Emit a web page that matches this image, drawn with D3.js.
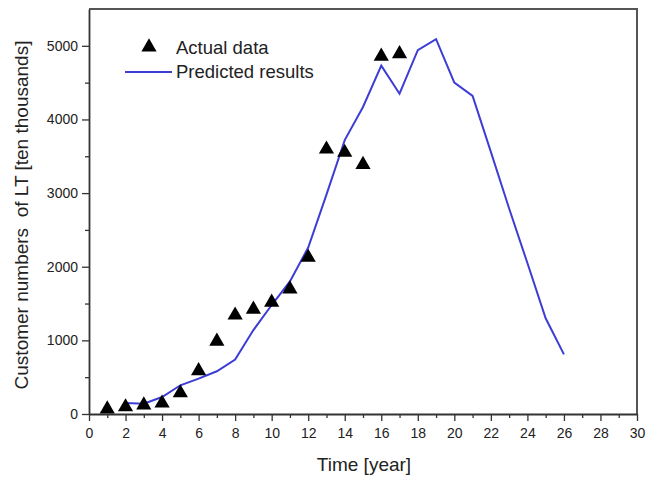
<!DOCTYPE html>
<html>
<head>
<meta charset="utf-8">
<script src="https://cdn.jsdelivr.net/npm/d3@7"></script>
<style>
body { margin: 0; background: #fff; }
text { font-family: "Liberation Sans", Arial, sans-serif; fill: #222; }
</style>
</head>
<body>
<div id="chart"></div>
<script>
// actual customer numbers (triangles)
var actualYears = [1, 2, 3, 4, 5, 6, 7, 8, 9, 10, 11, 12, 13, 14, 15, 16, 17];
var actualValues = [80, 110, 135, 160, 300, 600, 1000, 1355, 1435, 1530, 1710, 2140, 3610, 3565, 3400, 4870, 4905];

// predicted results (blue line)
var predYears = [2, 3, 4, 5, 6, 7, 8, 9, 10, 11, 12, 13, 14, 15, 16, 17, 18, 19, 20, 21, 22, 23, 24, 25, 26];
var predValues = [150, 140, 230, 390, 480, 580, 740, 1140, 1480, 1800, 2260, 2980, 3720, 4170, 4730, 4350, 4940, 5090, 4500, 4320, 3560, 2790, 2050, 1300, 810];

var xTicks = [0, 2, 4, 6, 8, 10, 12, 14, 16, 18, 20, 22, 24, 26, 28, 30];
var yTicks = [0, 1000, 2000, 3000, 4000, 5000];

var width = 647, height = 477;
var margin = { left: 89, right: 10, top: 9, bottom: 63 };

var svg = d3.select("#chart").append("svg")
    .attr("width", width)
    .attr("height", height);

var x = d3.scaleLinear().domain([0, 30]).range([margin.left, width - margin.right]);
var y = d3.scaleLinear().domain([0, 5500]).range([height - margin.bottom, margin.top]);

// frame top and right
svg.append("path")
    .attr("d", `M${x(0)},${y(5500)}H${x(30)}V${y(0)}`)
    .attr("fill", "none")
    .attr("stroke", "#555")
    .attr("stroke-width", 2);

// minor ticks
svg.append("g")
    .attr("transform", `translate(0, ${y(0)})`)
    .call(d3.axisBottom(x).tickValues(d3.range(1, 30, 2)).tickSize(4).tickFormat(""))
    .call(g => g.select(".domain").remove());
svg.append("g")
    .attr("transform", `translate(${x(0)}, 0)`)
    .call(d3.axisLeft(y).tickValues([500, 1500, 2500, 3500, 4500]).tickSize(4).tickFormat(""))
    .call(g => g.select(".domain").remove());

var xAxis = svg.append("g")
    .attr("transform", `translate(0, ${y(0)})`)
    .call(d3.axisBottom(x).tickValues(xTicks).tickSize(7).tickSizeOuter(0).tickPadding(7));
var yAxis = svg.append("g")
    .attr("transform", `translate(${x(0)}, 0)`)
    .call(d3.axisLeft(y).tickValues(yTicks).tickFormat(d3.format("d")).tickSize(7).tickSizeOuter(0).tickPadding(4));

svg.selectAll(".tick line").attr("stroke", "#333").attr("stroke-width", 1.3);
svg.selectAll(".domain").attr("stroke", "#333").attr("stroke-width", 1.8);
svg.selectAll(".tick text")
    .style("font-family", "'Liberation Sans', Arial, sans-serif")
    .style("font-size", "14px")
    .attr("fill", "#333");

// predicted line
var line = d3.line()
    .x(function (d, i) { return x(predYears[i]); })
    .y(function (d) { return y(d); });
svg.append("path")
    .datum(predValues)
    .attr("d", line)
    .attr("fill", "none")
    .attr("stroke", "#3d3dd6")
    .attr("stroke-width", 2);

// actual triangles
var tri = d3.symbol().type(d3.symbolTriangle).size(100);
svg.selectAll("path.pt").data(actualValues)
    .enter()
    .append("path")
    .attr("class", "pt")
    .attr("d", tri)
    .attr("transform", function (d, i) { return `translate(${x(actualYears[i])}, ${y(d) + 1})`; })
    .attr("fill", "#000");

// legend
var legend = svg.append("g");
legend.append("path")
    .attr("d", tri)
    .attr("transform", "translate(149, 47)")
    .attr("fill", "#000");
legend.append("text")
    .text("Actual data")
    .attr("x", 176)
    .attr("y", 54)
    .style("font-size", "18.5px");
legend.append("line")
    .attr("x1", 125).attr("x2", 172)
    .attr("y1", 72).attr("y2", 72)
    .attr("stroke", "#3d3dd6")
    .attr("stroke-width", 2);
legend.append("text")
    .text("Predicted results")
    .attr("x", 176)
    .attr("y", 78)
    .style("font-size", "18.5px");

// axis titles
svg.append("text")
    .text("Time [year]")
    .attr("x", 364)
    .attr("y", 471)
    .attr("text-anchor", "middle")
    .style("font-size", "19px");

svg.append("text")
    .text("Customer numbers\u00a0 of LT [ten thousands]")
    .attr("transform", "translate(28, 215) rotate(-90)")
    .attr("text-anchor", "middle")
    .style("font-size", "19px");
</script>
</body>
</html>
